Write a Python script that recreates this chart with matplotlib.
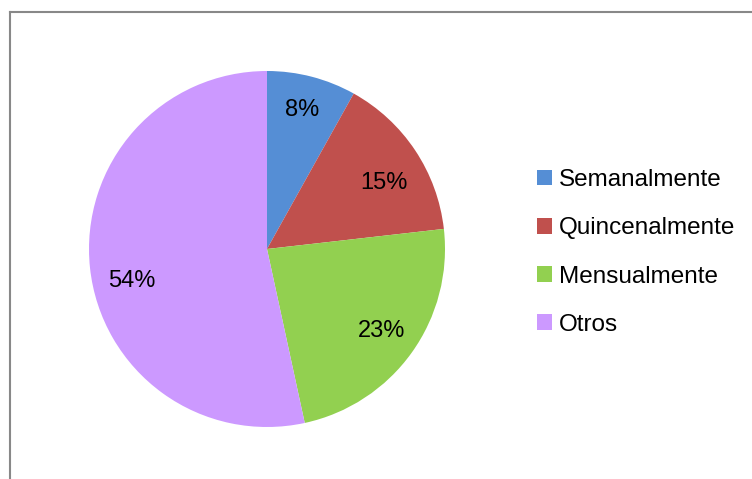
import matplotlib.pyplot as plt
from matplotlib.lines import Line2D

labels = ["Semanalmente", "Quincenalmente", "Mensualmente", "Otros"]
# slice shares as drawn in the picture, and the percentages printed on it
values = [8.1, 15.1, 23.4, 53.4]
pct_labels = ["8%", "15%", "23%", "54%"]
colors = ["#558ED5", "#C0504D", "#92D050", "#CC99FF"]

plt.rcParams["font.family"] = ["Liberation Sans", "DejaVu Sans"]

W, H = 752, 479
fig = plt.figure(figsize=(W / 100, H / 100), dpi=100)

# pie axes: centre (267, 249) px, radius 178 px
cx, cy, r = 267, 249, 178
ax = fig.add_axes([(cx - r) / W, (H - cy - r) / H, 2 * r / W, 2 * r / H])
wedges, texts, autotexts = ax.pie(
    values,
    colors=colors,
    startangle=90,
    counterclock=False,
    autopct="%d%%",
    pctdistance=0.79,
    radius=1.0,
    textprops={"fontsize": 17, "color": "black"},
)

# small pixel nudges so the labels sit where Excel put them
nudges = [(0, 3), (0, -12), (0, 0), (5, -17)]
for t, s, (dx, dy) in zip(autotexts, pct_labels, nudges):
    t.set_text(s)
    x, y = t.get_position()
    t.set_position((x + dx / r, y + dy / r))

ax.set_xlim(-1, 1)
ax.set_ylim(-1, 1)
ax.set_aspect("equal")

leg = fig.legend(
    wedges,
    labels,
    loc="upper left",
    bbox_to_anchor=(537 / W, 1 - 169 / H),
    frameon=False,
    fontsize=17.5,
    handlelength=0.62,
    handleheight=0.62,
    handletextpad=0.3,
    labelspacing=1.08,
    borderaxespad=0,
    borderpad=0,
)

# chart frame (only top and left edges visible)
fig.add_artist(Line2D([9.5 / W, 9.5 / W], [0, 1 - 12 / H], color="#888888", lw=1.5))
fig.add_artist(Line2D([9.5 / W, 1], [1 - 12 / H, 1 - 12 / H], color="#888888", lw=1.5))

fig.savefig("out.png", dpi=100)
